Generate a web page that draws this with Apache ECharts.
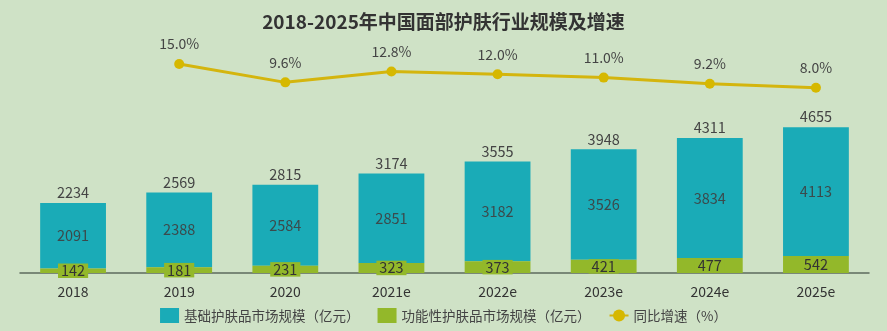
<!DOCTYPE html>
<html><head><meta charset="utf-8">
<script src="https://cdn.jsdelivr.net/npm/echarts@6/dist/echarts.min.js"></script>
<style>html,body{margin:0;padding:0;background:#cfe2c6;}#c{width:887px;height:331px;}</style>
</head><body><div id="c"></div>
<script>
const categories = ['2018','2019','2020','2021e','2022e','2023e','2024e','2025e'];
const basicValues = [2091,2388,2584,2851,3182,3526,3834,4113];
const functionalValues = [142,181,231,323,373,421,477,542];
const totalValues = [2234,2569,2815,3174,3555,3948,4311,4655];
const growthValues = [null,15.0,9.6,12.8,12.0,11.0,9.2,8.0];

const FONT = '"Noto Sans CJK SC", "Noto Sans", sans-serif';
const chart = echarts.init(document.getElementById('c'), null, {renderer:'canvas'});
chart.setOption({
  backgroundColor: '#cfe2c6',
  animation: false,
  textStyle: {fontFamily: FONT},
  title: {
    text: '2018-2025年中国面部护肤行业规模及增速',
    left: 'center', top: 7,
    textStyle: {fontSize: 19, fontWeight: 'bold', color: '#333', fontFamily: FONT}
  },
  legend: {
    bottom: 3, left: 'center',
    itemWidth: 19, itemHeight: 15, itemGap: 18,
    textStyle: {fontSize: 13.5, color: '#444', fontFamily: FONT},
    data: [
      {name: '基础护肤品市场规模（亿元）', icon: 'rect'},
      {name: '功能性护肤品市场规模（亿元）', icon: 'rect'},
      {name: '同比增速（%）'}
    ]
  },
  grid: [
    {left: 20, right: 18, top: 85, bottom: 58},
    {left: 20, right: 18, top: 47, bottom: 216}
  ],
  xAxis: [
    {type: 'category', gridIndex: 0, data: categories,
     axisLine: {lineStyle: {color: '#5d6b5d', width: 1.5}},
     axisTick: {show: false},
     axisLabel: {fontSize: 14, color: '#333', margin: 12, fontFamily: FONT}},
    {type: 'category', gridIndex: 1, data: categories, show: false}
  ],
  yAxis: [
    {type: 'value', gridIndex: 0, min: 0, max: 6000, show: false, splitLine: {show: false}},
    {type: 'value', gridIndex: 1, min: 0, max: 20, show: false, splitLine: {show: false}}
  ],
  series: [
    {name: '功能性护肤品市场规模（亿元）', type: 'bar', stack: 's', barWidth: '62%',
     data: functionalValues, itemStyle: {color: '#93b82a'},
     label: {show: true, position: 'inside', fontSize: 14.5, color: '#333',
             backgroundColor: '#93b82a', padding: [0, 3], fontFamily: FONT}, z: 3},
    {name: '基础护肤品市场规模（亿元）', type: 'bar', stack: 's', barWidth: '62%',
     data: basicValues, itemStyle: {color: '#1aabb7'},
     label: {show: true, position: 'inside', fontSize: 14.5, color: '#3b4a4c', fontFamily: FONT}, z: 2},
    {name: 'total', type: 'bar', barWidth: '62%', barGap: '-100%',
     data: totalValues, itemStyle: {color: 'rgba(0,0,0,0)'},
     label: {show: true, position: 'top', distance: 3, fontSize: 14.5, color: '#444', fontFamily: FONT},
     z: 1, silent: true},
    {name: '同比增速（%）', type: 'line', xAxisIndex: 1, yAxisIndex: 1,
     data: growthValues, symbol: 'circle', symbolSize: 10, clip: false,
     lineStyle: {color: '#d4b50e', width: 3}, itemStyle: {color: '#d6b800'},
     label: {show: true, position: 'top', distance: 8, fontSize: 14, color: '#444',
             fontFamily: FONT, formatter: p => p.value.toFixed(1) + '%'}}
  ]
});
</script></body></html>
